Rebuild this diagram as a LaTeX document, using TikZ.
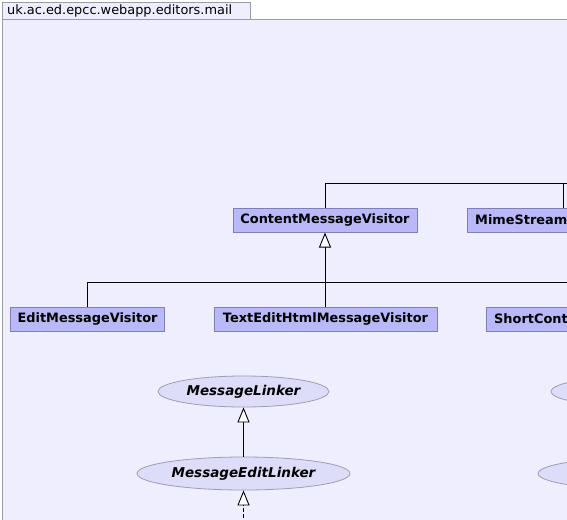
\documentclass[tikz,border=0pt]{standalone}
\usepackage{fontspec}
\setmainfont{DejaVu Sans}
\usetikzlibrary{arrows.meta,shapes.geometric}
\definecolor{bg}{HTML}{EEEEFF}
\definecolor{boxfill}{HTML}{B9B9F9}
\definecolor{boxline}{HTML}{7F7FB5}
\definecolor{ellfill}{HTML}{DDDDF9}
\definecolor{ellline}{HTML}{9E9EB0}
\definecolor{pkgline}{HTML}{9A9AAA}
\begin{document}
\begin{tikzpicture}[x=1pt,y=-1pt,
  cls/.style={draw=boxline,fill=boxfill,line width=1pt,minimum height=24pt,inner sep=0pt,font=\fontsize{12.9}{14}\selectfont\bfseries},
  clstext/.style={anchor=west,inner sep=0pt,font=\fontsize{12.9}{14}\selectfont\bfseries},
  ifc/.style={ellipse,draw=ellline,fill=ellfill,line width=0.8pt,inner sep=0pt,font=\fontsize{13.5}{15}\selectfont\bfseries\itshape},
  gen/.style={-{Triangle[open,length=15pt,width=12pt,fill=white]},line width=0.9pt},
  link/.style={line width=0.9pt},
  real/.style={gen,dash pattern=on 4pt off 2pt}]
\useasboundingbox (0,0) rectangle (567,519);
\begin{scope}
\clip (0,0) rectangle (567,519);
\fill[white] (0,0) rectangle (567,519);
\path[draw=pkgline,fill=bg,line width=0.8pt] (2,19) rectangle (700,700);
\node[draw=pkgline,fill=bg,line width=0.8pt,anchor=north west,minimum width=248pt,minimum height=17pt,inner sep=0pt] (tab) at (2,2) {};
\node[anchor=west,inner sep=0pt,font=\fontsize{12.9}{14}\selectfont] (tablabel) at (7,11) {uk.ac.ed.epcc.webapp.editors.mail};

% row 1
\node[cls,minimum width=184pt] (cmv) at (325,220) {ContentMessageVisitor};
\node[cls,minimum width=200pt,anchor=west] (msv) at (467,220) {};
\node[clstext] (msvtext) at (475,220) {MimeStream};
\coordinate (top) at (620,183);
\draw[link] (cmv.north) |- (top);
\draw[link] ([xshift=96pt]msv.north west) -- ++(0,-25);

% row 2
\node[cls,minimum width=154pt] (emv) at (87.5,319) {EditMessageVisitor};
\node[cls,minimum width=223pt] (tehmv) at (325.5,319) {TextEditHtmlMessageVisitor};
\node[cls,minimum width=200pt,anchor=west] (scv) at (486,319) {};
\node[clstext] (scvtext) at (494,319) {ShortCont};
\coordinate (mid) at (620,282);
\draw[gen] (tehmv.north -| cmv.south) -- (cmv.south);
\draw[link] (emv.north) |- (mid);

% interfaces
\node[ifc,minimum width=171pt,minimum height=31pt] (ml) at (243.5,391.5) {MessageLinker};
\node[ifc,minimum width=213pt,minimum height=33pt] (mel) at (243.5,473.5) {MessageEditLinker};
\node[ifc,minimum width=180pt,minimum height=31pt] (r1) at (641,391.5) {};
\node[ifc,minimum width=224pt,minimum height=33pt] (r2) at (650,473.5) {};
\coordinate (bot) at (243.5,530);
\draw[gen] (mel.north) -- (ml.south);
\draw[real] (bot) -- (mel.south);
\end{scope}
\end{tikzpicture}
\end{document}
